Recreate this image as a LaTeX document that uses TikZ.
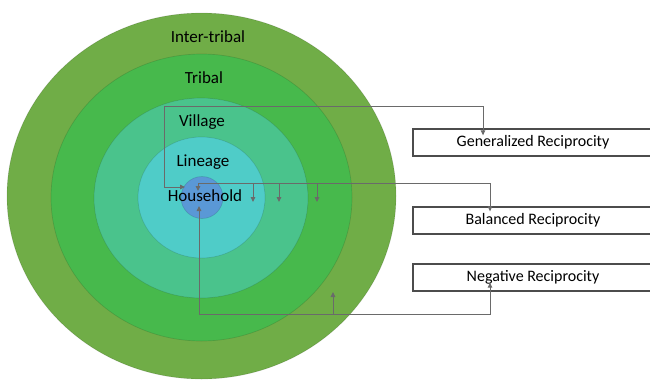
\documentclass[tikz,border=0pt]{standalone}
\usepackage{fontspec}
\setmainfont{Carlito}
\usepackage{xcolor}
\usetikzlibrary{arrows.meta,positioning}

\definecolor{ringA}{HTML}{70AD47}
\definecolor{ringB}{HTML}{47B94C}
\definecolor{ringC}{HTML}{4AC38C}
\definecolor{ringD}{HTML}{4FCCC8}
\definecolor{ringE}{HTML}{5A98D6}
\definecolor{linkgray}{HTML}{6A6A6A}

\tikzset{
	ring/.style={draw=black,draw opacity=0.12,line width=0.7pt},
	ringlabel/.style={font=\fontsize{17}{20}\selectfont,inner sep=0pt},
	recbox/.style={draw=black!70,line width=1.3pt,minimum width=240pt,minimum height=27pt,
		inner sep=0pt,font=\fontsize{16}{19}\selectfont,fill=white},
	link/.style={draw=linkgray,line width=1pt,>={Triangle[length=5pt,width=4.5pt]}}
}

\begin{document}
\begin{tikzpicture}[x=1pt,y=-1pt]
		\useasboundingbox (0,0) rectangle (650,381);
		\fill[white] (0,0) rectangle (650,381);
		\begin{scope}
		\clip (0,0) rectangle (650,381);

		% nested rings
		\fill[ringA,ring] (201.5,196) ellipse [x radius=194.5,y radius=183];
		\fill[ringB,ring] (201.5,197.5) ellipse [x radius=150.5,y radius=143.5];
		\fill[ringC,ring] (201,198) ellipse [x radius=107,y radius=100];
		\fill[ringD,ring] (201.5,197.5) ellipse [x radius=63.5,y radius=60.5];
		\fill[ringE,ring] (202,197.5) circle [radius=21];

		\node[ringlabel] (intertribal) at (208,37) {Inter-tribal};
		\node[ringlabel] (tribal) at (204,78) {Tribal};
		\node[ringlabel] (village) at (202,122) {Village};
		\node[ringlabel] (lineage) at (203,162) {Lineage};
		\node[ringlabel] (household) at (205,196) {Household};

		% reciprocity boxes
		\node[recbox] (gen) at (533,142.5) {Generalized Reciprocity};
		\node[recbox] (bal) at (533,220.5) {Balanced Reciprocity};
		\node[recbox] (neg) at (533,277.5) {Negative Reciprocity};

		\coordinate (hhW) at (185,187);
		\coordinate (hhN) at (198,191);
		\coordinate (hhS) at (199,206);

		% generalized
		\draw[link,<->] (hhW) -- (164,187) |- (483,106) -- ([yshift=-7pt]gen.north -| 483,0);
		% balanced
		\draw[link,<->] (hhN) -- (198,183) -| ([yshift=-5pt]bal.north -| 490,0);
		\foreach \x in {253,279,317}
			\draw[link,->] (\x,183) -- (\x,202);
		% negative
		\draw[link,<->] (hhS) -- (199,314) -| ([yshift=9pt]neg.south -| 490,0);
		\draw[link,->] (333,314) -- (333,292);
		\end{scope}
\end{tikzpicture}
\end{document}
